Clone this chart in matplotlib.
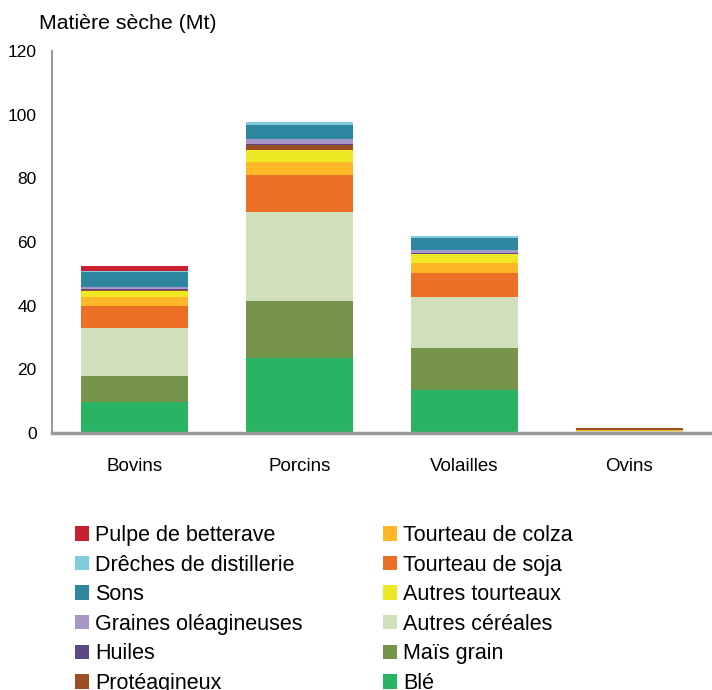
import numpy as np
import matplotlib
matplotlib.use('Agg')
import matplotlib.pyplot as plt
from matplotlib.patches import Patch

plt.rcParams['font.family'] = ['Liberation Sans', 'DejaVu Sans']

categories = ['Bovins', 'Porcins', 'Volailles', 'Ovins']

# stacking order, bottom to top (Mt de matière sèche)
ble = [9.7, 23.7, 13.5, 0.3]
mais = [8.3, 17.7, 13.3, 0.1]
autres_cereales = [14.9, 28.1, 15.8, 0.1]
soja = [7.1, 11.4, 7.7, 0.2]
colza = [2.8, 4.2, 3.1, 0.1]
autres_tourteaux = [1.9, 3.7, 2.7, 0.0]
proteagineux = [0.2, 1.6, 0.2, 0.9]
huiles = [0.3, 0.3, 0.2, 0.0]
graines = [0.6, 1.7, 0.9, 0.0]
sons = [4.7, 4.3, 4.0, 0.0]
drecches = [0.5, 0.9, 0.5, 0.0]
pulpe = [1.4, 0.0, 0.0, 0.0]

series = [
    ('Blé', ble, '#28b462'),
    ('Maïs grain', mais, '#76954b'),
    ('Autres céréales', autres_cereales, '#d0e0ba'),
    ('Tourteau de soja', soja, '#eb7025'),
    ('Tourteau de colza', colza, '#fdb727'),
    ('Autres tourteaux', autres_tourteaux, '#ede724'),
    ('Protéagineux', proteagineux, '#9c4e25'),
    ('Huiles', huiles, '#5c4a86'),
    ('Graines oléagineuses', graines, '#a797c6'),
    ('Sons', sons, '#2e86a0'),
    ('Drêches de distillerie', drecches, '#7fccdd'),
    ('Pulpe de betterave', pulpe, '#c8202f'),
]

legend_left = ['Pulpe de betterave', 'Drêches de distillerie', 'Sons',
               'Graines oléagineuses', 'Huiles', 'Protéagineux']
legend_right = ['Tourteau de colza', 'Tourteau de soja', 'Autres tourteaux',
                'Autres céréales', 'Maïs grain', 'Blé']

fig = plt.figure(figsize=(7.12, 6.9), dpi=100)
ax = fig.add_axes([52 / 712, 257 / 690, 660 / 712, 382 / 690])

x = np.arange(len(categories))
bottom = np.zeros(len(categories))
colors = {}
for name, vals, col in series:
    vals = np.array(vals)
    ax.bar(x, vals, width=0.65, bottom=bottom, color=col, edgecolor='none')
    bottom += vals
    colors[name] = col

ax.set_xlim(-0.5, 3.5)
ax.set_ylim(0, 120)
ax.set_yticks([0, 20, 40, 60, 80, 100, 120])
ax.set_xticks(x)
ax.set_xticklabels(categories, fontsize=13.5)
ax.tick_params(axis='y', length=0, pad=11, labelsize=12.5)
ax.tick_params(axis='x', length=0, pad=18)
for s in ['top', 'right']:
    ax.spines[s].set_visible(False)
ax.spines['left'].set_color('#9a9a9a')
ax.spines['left'].set_linewidth(1.5)
ax.spines['bottom'].set_color('#9a9a9a')
ax.spines['bottom'].set_linewidth(2.5)

fig.text(39 / 712, (690 - 29) / 690, 'Matière sèche (Mt)', fontsize=15.3,
         va='baseline', ha='left')

handles = [Patch(facecolor=colors[n], edgecolor='none', label=n)
           for n in legend_left + legend_right]
fig.legend(handles=handles, ncol=2, loc='upper left',
           bbox_to_anchor=(75 / 712, (690 - 525) / 690), frameon=False,
           fontsize=15.5, handlelength=0.65, handleheight=0.65,
           handletextpad=0.3, labelspacing=0.4, columnspacing=3.7,
           borderpad=0, borderaxespad=0)

fig.savefig('out.png', dpi=100)
